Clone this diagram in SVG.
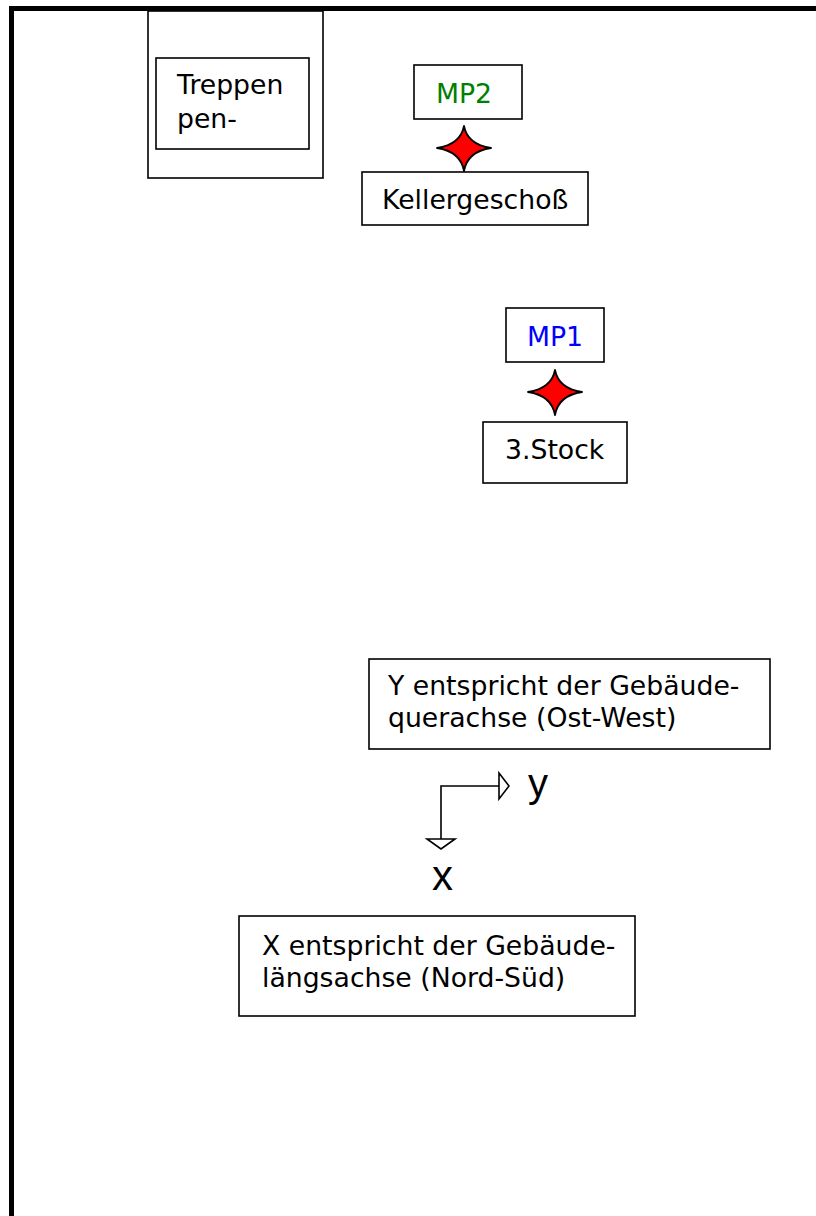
<svg xmlns="http://www.w3.org/2000/svg" width="816" height="1216" viewBox="0 0 816 1216">
<style>
.box{fill:#fff;stroke:#000;stroke-width:1.6}
.t{font-family:"DejaVu Sans","Verdana",sans-serif;font-size:26.7px;fill:#000}
.ax{font-family:"Liberation Sans",Arial,sans-serif;fill:#000}
.ln{fill:none;stroke:#000;stroke-width:1.6}
.star{fill:#ff0000;stroke:#000;stroke-width:1.8;stroke-linejoin:round}
</style>
<defs>
<path id="star" class="star" d="M0,-22 Q3.5,-3.5 27,0 Q3.5,3.5 0,23 Q-3.5,3.5 -27,0 Q-3.5,-3.5 0,-22 Z"/>
</defs>
<rect width="816" height="1216" fill="#fff"/>
<g id="frame">
<line x1="9" y1="8.5" x2="816" y2="8.5" stroke="#000" stroke-width="5"/>
<line x1="11.5" y1="6" x2="11.5" y2="1216" stroke="#000" stroke-width="5"/>
</g>
<g id="treppenhaus">
<rect class="box" x="148" y="11" width="175" height="167"/>
<rect class="box" x="156" y="58" width="153" height="91"/>
<text class="t" x="177" y="94">Treppen</text>
<text class="t" x="177" y="128">pen-</text>
</g>
<g id="mp2">
<rect class="box" x="414" y="65" width="108" height="54"/>
<text class="t" x="436" y="103" style="fill:#008000">MP2</text>
</g>
<g id="star2"><use href="#star" x="464" y="148"/></g>
<g id="keller">
<rect class="box" x="362" y="172" width="226" height="53"/>
<text class="t" x="382" y="209">Kellergeschoß</text>
</g>
<g id="mp1">
<rect class="box" x="506" y="308" width="98" height="54"/>
<text class="t" x="527" y="346" style="fill:#0000ff">MP1</text>
</g>
<g id="star1"><use href="#star" x="555" y="392"/></g>
<g id="stock3">
<rect class="box" x="483" y="422" width="144" height="61"/>
<text class="t" x="505" y="459">3.Stock</text>
</g>
<g id="ynote">
<rect class="box" x="369" y="659" width="401" height="90"/>
<text class="t" x="388" y="695">Y entspricht der Gebäude-</text>
<text class="t" x="388" y="727">querachse (Ost-West)</text>
</g>
<g id="connectors">
<polyline class="ln" points="441,839 441,786 499,786"/>
<polygon class="ln" points="499,773 509,786 499,799"/>
<polygon class="ln" points="427,839 455,839 441,849"/>
</g>
<g id="ylabel"><text class="ax" x="528" y="797" font-size="40">y</text></g>
<g id="xlabel"><text class="ax" x="432" y="890" font-size="42">x</text></g>
<g id="xnote">
<rect class="box" x="239" y="916" width="396" height="100"/>
<text class="t" x="262" y="955">X entspricht der Gebäude-</text>
<text class="t" x="262" y="987">längsachse (Nord-Süd)</text>
</g>
</svg>
